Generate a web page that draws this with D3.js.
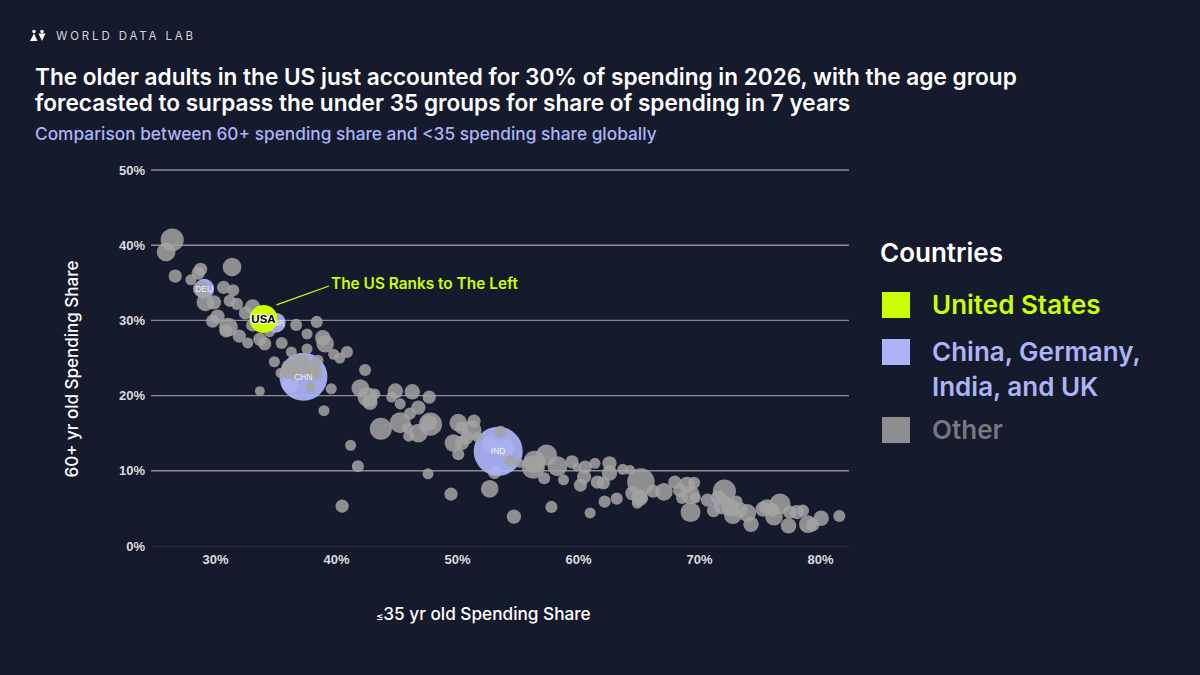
<!DOCTYPE html>
<html>
<head>
<meta charset="utf-8">
<script src="https://cdn.jsdelivr.net/npm/d3@7"></script>
<style>
  html, body { margin: 0; padding: 0; background: #161a2d; }
  svg { display: block; }
  text { font-family: Inter, "Noto Sans", sans-serif; }
  .tick text { font-family: "Liberation Sans", Arial, sans-serif; font-weight: 700; font-size: 13px; fill: #dcdcdc; }
</style>
</head>
<body>
<div id="chart"></div>
<script>
// [<35 share, 60+ share, spending size]
const behindPoints = [
  [53.1, 9.8, 36], [54.0, 13.0, 60], [52.8, 13.5, 60], [36.2, 21.5, 60]
];
const otherPoints = [
  [26.45,40.7,110],[25.95,39.1,72],[26.7,35.9,36],[28.0,35.4,25],[28.6,36.3,36],[28.8,36.8,36],
  [31.4,37.1,72],[28.8,34.2,49],[29.2,32.4,64],[29.9,32.4,42],[30.7,34.4,36],[31.5,34.0,30],
  [31.2,32.6,30],[31.8,32.2,30],[32.5,31.0,36],[33.1,31.8,49],[30.2,30.5,42],[29.8,29.9,36],
  [31.1,29.1,72],[30.9,28.6,36],[32.0,27.9,36],[32.7,27.0,25],[33.7,27.5,36],[34.1,26.9,36],
  [34.5,28.5,25],[33.1,29.4,36],[36.7,29.4,30],[38.4,29.8,30],[37.6,28.2,25],[35.5,27.0,30],
  [38.9,27.7,49],[39.1,26.9,64],[39.8,25.5,25],[40.3,25.0,25],[40.9,25.8,30],[37.6,26.2,25],
  [36.3,25.8,25],[34.9,24.5,25],[42.4,23.4,30],[38.5,24.7,25],[36.2,23.7,64],[36.9,23.8,64],
  [37.9,23.4,64],[35.4,23.0,20],[36.0,23.1,36],[37.9,21.1,20],[39.6,20.9,25],[33.7,20.6,20],
  [37.2,24.6,42],[38.3,23.0,42],[36.6,22.9,36],
  [39.0,18.0,25],[42.0,21.0,64],[42.6,19.8,81],[43.2,20.2,25],[42.8,19.1,49],
  [44.9,20.6,49],[44.6,19.8,25],[46.3,20.5,49],[47.7,19.8,36],[45.3,18.9,25],[46.8,18.4,42],
  [46.1,17.6,30],[43.7,15.6,100],[45.3,16.4,90],[45.9,15.7,25],[46.8,15.0,72],[46.0,14.6,25],
  [47.8,16.2,110],[47.7,16.4,49],[41.2,13.4,25],[41.8,10.6,30],[47.6,9.6,25],[40.5,5.3,36],
  [50.1,16.4,64],[50.4,15.7,36],[51.4,16.6,36],[51.2,15.4,81],[51.7,14.5,25],[50.8,14.4,36],
  [49.7,13.7,64],[50.4,13.7,42],[50.1,12.2,30],[49.5,6.9,36],[53.6,15.2,30],[54.4,11.3,30],
  [52.7,7.6,64],[54.7,3.9,42],[57.8,5.2,30],[61.0,4.4,25],[55.2,11.0,16],[56.4,11.2,100],
  [56.3,10.5,110],[57.4,12.1,90],[57.2,9.0,30],[58.3,10.6,81],[58.8,8.8,25],[59.5,11.2,36],
  [59.9,10.5,16],[60.6,10.5,36],[61.4,11.0,25],[60.5,9.2,42],[60.2,8.1,36],[61.6,8.5,36],
  [62.6,11.0,42],[62.6,9.7,49],[62.1,8.4,36],[63.7,10.2,25],[64.3,10.1,20],[65.2,8.5,156],
  [64.5,7.0,42],[65.1,6.4,56],[64.9,5.7,25],[63.2,6.3,30],[62.2,5.9,30],[65.4,6.3,16],
  [66.2,7.3,36],[67.1,7.2,64],[68.0,8.5,36],[69.0,8.1,56],[69.6,8.4,30],[68.4,7.4,36],
  [69.3,6.8,72],[68.6,6.4,30],[69.3,4.5,81],[69.7,6.4,25],[70.7,6.1,36],[71.2,4.7,36],
  [72.1,7.3,110],[71.6,6.4,49],[72.0,5.5,81],[73.1,5.9,30],[72.6,5.1,64],[72.8,4.1,64],
  [74.0,4.4,64],[73.4,4.8,49],[74.3,2.9,49],[75.3,4.9,49],[76.1,4.8,36],[76.7,5.6,90],
  [76.2,3.9,64],[75.6,5.2,49],[77.4,2.7,49],[77.5,4.5,36],[78.1,4.5,42],[78.6,4.7,30],
  [79.0,2.9,64],[79.4,2.8,36],[80.1,3.7,49],[81.6,4.0,30]
];
const focusPoints = [
  ["DEU", 29.1, 34.2, 100],
  ["CHN", 37.3, 22.5, 576],
  ["IND", 53.4, 12.6, 600]
];
const ukPoint = ["GBR", 35.0, 29.7, 100];
const usaPoint = ["USA", 34.0, 30.2, 196];

const xTicks = [30, 40, 50, 60, 70, 80];
const yTicks = [0, 10, 20, 30, 40, 50];
const legendItems = [
  { label: ["United States"], color: "#ccff00" },
  { label: ["China, Germany,", "India, and UK"], color: "#acb4f5" },
  { label: ["Other"], color: "#8e8e8e", textColor: "#77787f" }
];

const width = 1200, height = 675;
const bg = "#161a2d", lime = "#ccff00", periwinkle = "#acb4f5", gray = "#a3a3a3";

const svg = d3.select("#chart").append("svg")
  .attr("width", width)
  .attr("height", height);

svg.append("rect").attr("width", width).attr("height", height).attr("fill", bg);

const x = d3.scaleLinear().domain([24.7, 82.4]).range([151, 849]);
const y = d3.scaleLinear().domain([0, 50]).range([546, 170]);
const r = d3.scaleSqrt().domain([0, 600]).range([0, 24.5]);
const rOther = d3.scaleSqrt().domain([0, 600]).range([0, 27]);

// logo
const logo = svg.append("g").attr("fill", "#fff");
logo.append("circle").attr("cx", 34).attr("cy", 31.5).attr("r", 1.7);
logo.append("path").attr("d", d3.line()([[30, 41], [34, 33.5], [37.5, 41]]));
logo.append("circle").attr("cx", 42).attr("cy", 31.5).attr("r", 1.7);
logo.append("path").attr("d", d3.line()([[38.5, 33.5], [45.5, 33.5], [42, 41]]));

svg.append("text").attr("x", 56).attr("y", 40)
  .attr("fill", "#d6d6da").attr("font-size", 11.5).attr("letter-spacing", 2.85)
  .text("WORLD DATA LAB");

// titles
const titleLines = [
  "The older adults in the US just accounted for 30% of spending in 2026, with the age group",
  "forecasted to surpass the under 35 groups for share of spending in 7 years"
];
svg.selectAll(".title").data(titleLines).join("text")
  .attr("class", "title")
  .attr("x", 35)
  .attr("y", (d, i) => 85 + i * 26)
  .attr("fill", "#fff").attr("font-size", 22.6).attr("font-weight", 600)
  .text(d => d);

svg.append("text").attr("x", 35).attr("y", 140)
  .attr("fill", periwinkle).attr("font-size", 17.3).attr("font-weight", 500)
  .text("Comparison between 60+ spending share and <35 spending share globally");

// axes
const yAxis = d3.axisLeft(y).tickValues(yTicks).tickFormat(d => d + "%").tickSize(0).tickPadding(6);
const yG = svg.append("g").attr("transform", "translate(151,0)").call(yAxis);
yG.select(".domain").remove();

const xAxis = d3.axisBottom(x).tickValues(xTicks).tickFormat(d => d + "%").tickSize(0).tickPadding(9);
const xG = svg.append("g").attr("transform", "translate(0,546)").call(xAxis);
xG.select(".domain").attr("stroke", "#2b2e3d");

// gridlines
svg.append("g").selectAll("line").data(yTicks.filter(d => d > 0)).join("line")
  .attr("x1", 151).attr("x2", 849)
  .attr("y1", d => y(d)).attr("y2", d => y(d))
  .attr("stroke", "#8d8d98").attr("stroke-width", 1.4);

// bubbles
function bubbles(data, cls, scale, fill, opacity) {
  svg.append("g").attr("class", cls).selectAll("circle").data(data).join("circle")
    .attr("cx", d => x(d[0]))
    .attr("cy", d => y(d[1]))
    .attr("r", d => scale(d[2]))
    .attr("fill", fill)
    .attr("fill-opacity", opacity);
}
bubbles(behindPoints, "behind", rOther, gray, 0.85);
bubbles(focusPoints.map(d => d.slice(1)), "focus", r, periwinkle, 0.93);
bubbles(otherPoints, "other", rOther, gray, 0.85);
bubbles([ukPoint.slice(1)], "uk", r, periwinkle, 0.93);

svg.append("g").selectAll("text").data(focusPoints.concat([ukPoint])).join("text")
  .attr("x", d => x(d[1]))
  .attr("y", d => y(d[2]) + 3)
  .attr("text-anchor", "middle")
  .attr("fill", "#f2f2f6").attr("font-size", 8.5)
  .style("font-family", "'Liberation Sans', Arial, sans-serif")
  .text(d => d[0]);

// USA on top
svg.append("circle")
  .attr("cx", x(usaPoint[1])).attr("cy", y(usaPoint[2])).attr("r", r(usaPoint[3]))
  .attr("fill", lime);
svg.append("text")
  .attr("x", x(usaPoint[1])).attr("y", y(usaPoint[2]) + 4)
  .attr("text-anchor", "middle")
  .attr("fill", "#000").attr("font-size", 11.5).attr("font-weight", 700)
  .style("font-family", "'Liberation Sans', Arial, sans-serif")
  .style("paint-order", "stroke").attr("stroke", "#fff").attr("stroke-width", 2)
  .text(usaPoint[0]);

// annotation
svg.append("line")
  .attr("x1", x(usaPoint[1]) + 13).attr("y1", y(usaPoint[2]) - 14)
  .attr("x2", 329).attr("y2", 286)
  .attr("stroke", lime).attr("stroke-width", 1.3);
svg.append("text").attr("x", 331).attr("y", 289)
  .attr("fill", lime).attr("font-size", 15.4).attr("font-weight", 600)
  .text("The US Ranks to The Left");

// axis titles
svg.append("text")
  .attr("transform", "translate(78,369) rotate(-90)")
  .attr("text-anchor", "middle")
  .attr("fill", "#fff").attr("font-size", 17).attr("font-weight", 500)
  .text("60+ yr old Spending Share");

const xLabel = svg.append("text").attr("x", 376).attr("y", 620)
  .attr("fill", "#fff").attr("font-size", 17.2).attr("font-weight", 500);
xLabel.append("tspan").attr("font-size", 11).text("≤");
xLabel.append("tspan").text("35 yr old Spending Share");

// legend
svg.append("text").attr("x", 880).attr("y", 262)
  .attr("fill", "#fff").attr("font-size", 26).attr("font-weight", 600)
  .text("Countries");

const legendY = [292, 339, 417];
const legend = svg.append("g").selectAll("g").data(legendItems).join("g")
  .attr("transform", (d, i) => `translate(882,${legendY[i]})`);
legend.append("rect").attr("width", 28).attr("height", 26).attr("fill", d => d.color);
legend.selectAll("text").data(d => d.label.map(t => ({ t, c: d.textColor || d.color }))).join("text")
  .attr("x", 50)
  .attr("y", (d, i) => 22 + i * 35)
  .attr("fill", d => d.c)
  .attr("font-size", 26).attr("font-weight", 600)
  .text(d => d.t);
</script>
</body>
</html>
